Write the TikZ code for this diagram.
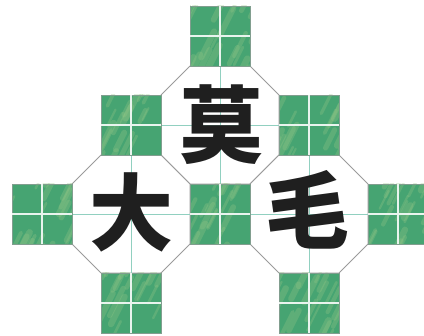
\documentclass[tikz,border=0pt]{standalone}
\usepackage{fontspec}
\newfontfamily\cjk{Noto Sans CJK SC}
\definecolor{sqgreen}{RGB}{70,164,114}
\definecolor{sqlight}{RGB}{150,200,135}
\definecolor{octline}{RGB}{155,155,155}
\definecolor{gridteal}{RGB}{145,208,192}
\newcommand\greensq[2]{%
  \begin{scope}
    \clip (#1-30,#2-30) rectangle (#1+30,#2+30);
    \fill[sqgreen] (#1-30,#2-30) rectangle (#1+30,#2+30);
    \foreach \k in {1,...,22}{%
      \pgfmathsetmacro\ra{#1+rnd*80-40}%
      \pgfmathsetmacro\rb{#2+rnd*80-30}%
      \pgfmathsetmacro\rl{10+rnd*18}%
      \pgfmathsetmacro\rw{2+rnd*5}%
      \draw[streak,line width=\rw pt] (\ra,\rb) -- ++(0.5*\rl,-\rl);
    }
  \end{scope}
  \draw[sqedge] (#1-30,#2-30) rectangle (#1+30,#2+30);
  \draw[sqline] (#1-30,#2) -- (#1+30,#2) (#1,#2-30) -- (#1,#2+30);
}
\newcommand\octo[2]{%
  \draw[oct] (#1-30,#2-59) -- (#1+30,#2-59) -- (#1+59,#2-30) -- (#1+59,#2+30)
    -- (#1+30,#2+59) -- (#1-30,#2+59) -- (#1-59,#2+30) -- (#1-59,#2-30) -- cycle;
  \draw[octgrid] (#1-59,#2) -- (#1+59,#2) (#1,#2-59) -- (#1,#2+59);
}
\begin{document}
\begin{tikzpicture}[x=1pt,y=-1pt,
  oct/.style={fill=white,draw=octline,line width=0.9pt},
  sqedge/.style={draw=octline!70!sqgreen,line width=0.7pt},
  sqline/.style={draw=white!88!sqgreen,line width=1.3pt},
  streak/.style={draw=sqlight,opacity=0.3,line cap=round},
  octgrid/.style={draw=gridteal,line width=0.9pt},
  hanzi/.style={font=\cjk\bfseries\fontsize{84}{84}\selectfont,inner sep=0pt,text=black!88}]
\useasboundingbox (0,0) rectangle (424,336);
\pgfmathsetseed{7}
\octo{220}{125}
\octo{131}{214}
\octo{309}{214}
\greensq{220}{36}
\greensq{131}{125}
\greensq{309}{125}
\greensq{42}{214}
\greensq{220}{214}
\greensq{398}{214}
\greensq{131}{303}
\greensq{309}{303}
\node[hanzi] (mo) at (221,125) {莫};
\node[hanzi] (da) at (131,212) {大};
\node[hanzi] (mao) at (307,210) {毛};
\end{tikzpicture}
\end{document}
